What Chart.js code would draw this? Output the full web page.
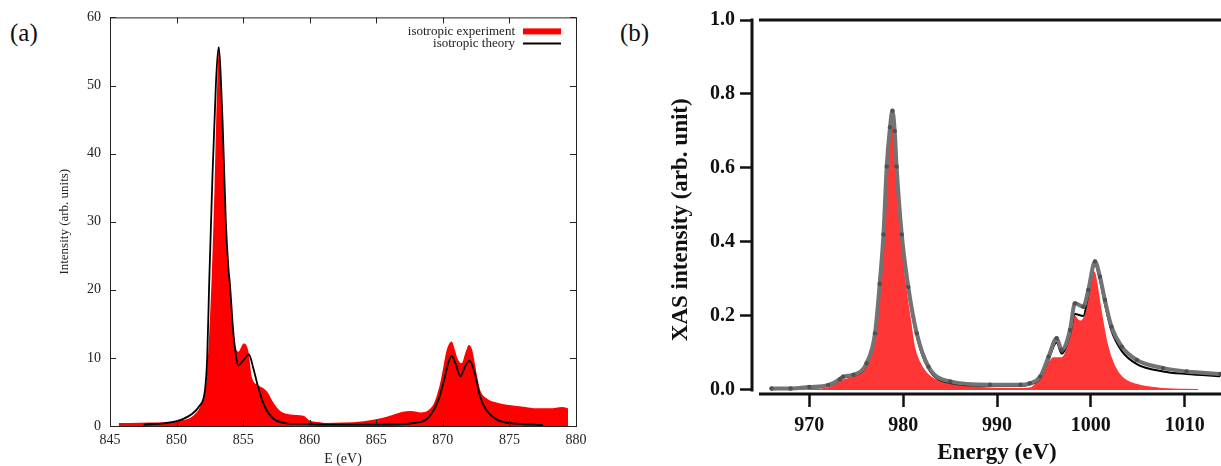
<!DOCTYPE html>
<html>
<head>
<meta charset="utf-8">
<script src="https://cdn.jsdelivr.net/npm/chart.js@4.4.1/dist/chart.umd.min.js"></script>
<style>
  html, body { margin: 0; padding: 0; background: #fff; }
  body { width: 1221px; height: 466px; overflow: hidden; position: relative; }
  canvas { position: absolute; top: 0; }
  #chartA { left: 0; }
  #chartB { left: 610px; }
  .panel { position: absolute; font-family: "Liberation Serif", serif; font-size: 25px; color: #111; line-height: 1; }
</style>
</head>
<body>
<div class="panel" style="left:10px; top:20px;">(a)</div>
<div class="panel" style="left:620px; top:20px;">(b)</div>
<canvas id="chartA" width="600" height="466"></canvas>
<canvas id="chartB" width="640" height="466"></canvas>
<script>
// ---------------- panel (a): L2,3 edge, experiment vs theory ----------------
const xTicksA = [845, 850, 855, 860, 865, 870, 875, 880];
const yTicksA = [0, 10, 20, 30, 40, 50, 60];

const expA_E = [845.66, 846.5, 848, 849.5, 850.25, 851.25, 851.88, 852.25, 852.63, 852.85, 853.05, 853.2,
  853.4, 853.6, 853.8, 854.0, 854.13, 854.25, 854.38, 854.63, 855.05, 855.4, 855.65, 856.15, 856.78,
  857.28, 857.78, 858.53, 859.53, 860.0, 860.78, 861.2, 862.5, 864.05, 865.5, 866.2, 866.9, 867.6, 868.4,
  869.2, 869.5, 869.8, 870.05, 870.23, 870.45, 870.66, 870.9, 871.1, 871.4, 871.7, 871.95, 872.2, 872.4, 872.6,
  872.8, 873.25, 874.1, 875.26, 876.2, 877.0, 878.0, 879.0, 879.4];
const expA_I = [0.44, 0.45, 0.5, 0.6, 0.8, 1.5, 3.4, 6.7, 21.4, 35, 50, 55.8,
  46, 34, 26, 21, 16.5, 14.5, 12.1, 10.9, 12.1, 10.9, 7.2, 6.0, 5.1,
  3.4, 2.2, 1.7, 1.5, 0.8, 0.55, 0.45, 0.5, 0.7, 1.2, 1.6, 2.05, 2.2, 2.0,
  2.9, 4.2, 6.3, 8.8, 10.7, 12.0, 12.4, 11.2, 9.9, 9.2, 10.8, 11.9, 11.2, 9.2, 7.0,
  5.3, 4.1, 3.4, 3.0, 2.8, 2.6, 2.6, 2.8, 2.6];

const theoA_E = [847.53, 849, 850, 851.1, 851.7, 852.13, 852.3, 852.45, 852.7, 852.95, 853.15, 853.45, 853.7,
  853.9, 854.0, 854.25, 854.45, 854.63, 855.0, 855.43, 855.75, 856.13, 856.63, 857.25, 858.25, 859.5, 861.5,
  865.5, 867.8, 868.9, 869.66, 870.1, 870.43, 870.66, 870.95, 871.32, 871.66, 872.0, 872.4, 872.8, 873.25,
  874.1, 875.5, 877.5];
const theoA_I = [0.2, 0.4, 0.7, 1.7, 2.9, 5.2, 10, 21, 37, 50, 55.6, 45, 30,
  23, 21, 14, 10.5, 8.9, 9.6, 10.5, 8.6, 5.7, 2.8, 1.1, 0.4, 0.3, 0.2,
  0.2, 0.44, 1.2, 3.8, 6.8, 9.4, 10.3, 9.2, 7.3, 8.7, 9.6, 7.7, 4.3, 2.4,
  0.9, 0.34, 0.15];

// ---------------- panel (b): XAS ----------------
const xTicksB = [970, 980, 990, 1000, 1010];
const yTicksB = [0, 0.2, 0.4, 0.6, 0.8, 1.0];
const yTitleB = 'XAS intensity (arb. unit)';

const expB_E = [965.96, 968.0, 970.0, 972.0, 973.25, 973.6, 974.7, 976.1, 977.0, 977.5, 977.9, 978.25, 978.6,
  978.86, 979.1, 979.3, 979.85, 980.55, 981.45, 982.7, 985.0, 989.25, 992.5, 993.5, 994.6, 995.5, 996.36,
  996.9, 997.78, 998.3, 999.2, 999.73, 1000.44, 1000.97, 1001.5, 1002.2, 1003.3, 1004.9, 1007.7, 1010.2, 1013.8];
const expB_I = [0.004, 0.004, 0.008, 0.013, 0.029, 0.036, 0.041, 0.072, 0.153, 0.287, 0.42, 0.604, 0.71,
  0.755, 0.70, 0.604, 0.42, 0.278, 0.153, 0.063, 0.023, 0.014, 0.014, 0.018, 0.036, 0.09, 0.14,
  0.108, 0.162, 0.234, 0.225, 0.27, 0.347, 0.306, 0.243, 0.171, 0.117, 0.081, 0.059, 0.05, 0.043];
const theoB_I = [0.002, 0.003, 0.006, 0.011, 0.026, 0.033, 0.038, 0.068, 0.148, 0.28, 0.41, 0.59, 0.70,
  0.745, 0.69, 0.595, 0.41, 0.268, 0.145, 0.057, 0.019, 0.011, 0.011, 0.015, 0.032, 0.083, 0.128,
  0.098, 0.15, 0.205, 0.2, 0.258, 0.34, 0.297, 0.232, 0.16, 0.105, 0.07, 0.05, 0.043, 0.037];

const calcB_E = [968.2, 970, 972, 973.6, 974.7, 976.1, 977.0, 977.5, 977.9, 978.25, 978.6, 978.85, 979.1,
  979.3, 979.85, 980.5, 980.9, 981.3, 981.8, 982.5, 983.5, 985.0, 989.25, 992.5, 993.6, 995.1, 996.0, 996.9,
  997.6, 998.3, 998.85, 999.4, 1000.26, 1000.6, 1001.15, 1001.86, 1002.6, 1003.45, 1004.9, 1007.7, 1011.45];
const calcB_I = [0.002, 0.004, 0.009, 0.03, 0.038, 0.068, 0.14, 0.27, 0.40, 0.58, 0.69, 0.725, 0.67,
  0.58, 0.40, 0.26, 0.19, 0.12, 0.08, 0.05, 0.03, 0.018, 0.008, 0.007, 0.009, 0.063, 0.09, 0.09,
  0.135, 0.203, 0.189, 0.212, 0.324, 0.311, 0.225, 0.126, 0.068, 0.036, 0.018, 0.007, 0.004];

const pts = (xs, ys) => xs.map((x, i) => ({ x: x, y: ys[i] }));
const fixTicks = list => scale => { scale.ticks = list.map(v => ({ value: v })); };
const serif = '"Liberation Serif", "Times New Roman", serif';

// gnuplot-like frame: box, inward ticks on four sides, legend with samples on the right
const frameA = {
  id: 'frameA',
  afterDraw(chart) {
    const { ctx, chartArea: a, scales: { x, y } } = chart;
    ctx.save();
    ctx.strokeStyle = '#222';
    ctx.lineWidth = 1;
    ctx.strokeRect(a.left + 0.5, a.top + 0.5, a.right - a.left, a.bottom - a.top);
    ctx.beginPath();
    x.ticks.forEach(t => {
      const px = Math.round(x.getPixelForValue(t.value)) + 0.5;
      ctx.moveTo(px, a.bottom); ctx.lineTo(px, a.bottom - 6);
      ctx.moveTo(px, a.top); ctx.lineTo(px, a.top + 6);
    });
    y.ticks.forEach(t => {
      const py = Math.round(y.getPixelForValue(t.value)) + 0.5;
      ctx.moveTo(a.left, py); ctx.lineTo(a.left + 6, py);
      ctx.moveTo(a.right, py); ctx.lineTo(a.right - 6, py);
    });
    ctx.stroke();

    const ds = chart.data.datasets;
    const tx = a.right - 61, sx0 = a.right - 53, sx1 = a.right - 15;
    ctx.font = '13px ' + serif;
    ctx.fillStyle = '#222';
    ctx.textAlign = 'right';
    ctx.textBaseline = 'middle';
    ctx.fillText(ds[0].label, tx, a.top + 14);
    ctx.fillText(ds[1].label, tx, a.top + 26);
    ctx.fillStyle = '#ff0000';
    ctx.fillRect(sx0, a.top + 11, sx1 - sx0, 6);
    ctx.strokeStyle = '#000';
    ctx.lineWidth = 2;
    ctx.beginPath();
    ctx.moveTo(sx0, a.top + 26); ctx.lineTo(sx1, a.top + 26);
    ctx.stroke();
    ctx.restore();
  }
};

// Igor-like detached axes for panel (b), plus its y title
const axesB = {
  id: 'axesB',
  afterDraw(chart) {
    const { ctx, chartArea: a, scales: { x, y } } = chart;
    ctx.save();
    ctx.strokeStyle = '#111';
    ctx.lineWidth = 3;
    ctx.beginPath();
    ctx.moveTo(a.left - 1, y.getPixelForValue(1.0) - 1.5);
    ctx.lineTo(a.left - 1, y.getPixelForValue(0) + 1.5);
    ctx.moveTo(a.left + 6, y.getPixelForValue(1.0));
    ctx.lineTo(a.right, y.getPixelForValue(1.0));
    ctx.moveTo(a.left + 6, a.bottom);
    ctx.lineTo(a.right, a.bottom);
    ctx.stroke();

    ctx.translate(71, y.getPixelForValue(0.46));
    ctx.rotate(-Math.PI / 2);
    ctx.font = 'bold 23px ' + serif;
    ctx.fillStyle = '#111';
    ctx.textAlign = 'center';
    ctx.textBaseline = 'middle';
    ctx.fillText(yTitleB, 0, 0);
    ctx.restore();
  }
};

new Chart(document.getElementById('chartA'), {
  type: 'line',
  data: {
    datasets: [
      { label: 'isotropic experiment', data: pts(expA_E, expA_I), fill: 'origin', backgroundColor: '#ff0000',
        borderWidth: 0, pointRadius: 0, cubicInterpolationMode: 'monotone', order: 2 },
      { label: 'isotropic theory', data: pts(theoA_E, theoA_I), fill: false, borderColor: '#000',
        borderWidth: 1.8, pointRadius: 0, cubicInterpolationMode: 'monotone', order: 1 }
    ]
  },
  options: {
    responsive: false,
    animation: false,
    layout: { padding: { top: 16, right: 24, left: 0, bottom: 0 } },
    plugins: { legend: { display: false }, tooltip: { enabled: false } },
    scales: {
      x: {
        type: 'linear', min: 845, max: 880,
        afterBuildTicks: fixTicks(xTicksA),
        afterFit: s => { s.height = 40; },
        grid: { display: false, drawTicks: false },
        border: { display: false },
        ticks: { color: '#222', padding: 6, font: { family: serif, size: 14 }, callback: v => String(v) },
        title: { display: true, text: 'E (eV)', color: '#222', padding: { top: 0, bottom: 0 },
          font: { family: serif, size: 14, lineHeight: 1 } }
      },
      y: {
        min: 0, max: 60,
        afterBuildTicks: fixTicks(yTicksA),
        afterFit: s => { s.width = 110; },
        grid: { display: false, drawTicks: false },
        border: { display: false },
        ticks: { color: '#222', padding: 9, font: { family: serif, size: 14 }, callback: v => String(v) },
        title: { display: true, text: 'Intensity (arb. units)', color: '#222', padding: { top: 58, bottom: 0 },
          font: { family: serif, size: 13, lineHeight: 1 } }
      }
    }
  },
  plugins: [frameA]
});

new Chart(document.getElementById('chartB'), {
  type: 'line',
  data: {
    datasets: [
      { label: 'experiment', data: pts(expB_E, expB_I), fill: false, borderColor: '#737373', borderWidth: 4,
        pointRadius: 2.2, pointBackgroundColor: '#505050', pointBorderWidth: 0,
        cubicInterpolationMode: 'monotone', order: 1 },
      { label: 'theory', data: pts(expB_E, theoB_I), fill: false, borderColor: '#000', borderWidth: 2,
        pointRadius: 0, cubicInterpolationMode: 'monotone', order: 2 },
      { label: 'calculation', data: pts(calcB_E, calcB_I), fill: 'origin', backgroundColor: '#ff3636',
        borderColor: '#fff', borderWidth: 1.2, pointRadius: 0, cubicInterpolationMode: 'monotone', order: 3 }
    ]
  },
  options: {
    responsive: false,
    animation: false,
    layout: { padding: { top: 20, right: 9, left: 0, bottom: 0 } },
    plugins: { legend: { display: false }, tooltip: { enabled: false } },
    scales: {
      x: {
        type: 'linear', min: 964, max: 1016,
        afterBuildTicks: fixTicks(xTicksB),
        afterFit: s => { s.height = 72; },
        grid: { drawOnChartArea: false, drawTicks: true, tickLength: 13, tickWidth: 2.5, color: '#111' },
        border: { display: false },
        ticks: { color: '#111', padding: 7, font: { family: serif, size: 20, weight: 'bold' }, callback: v => String(v) },
        title: { display: true, text: 'Energy (eV)', color: '#111', padding: { top: 0, bottom: 1 },
          font: { family: serif, size: 23, weight: 'bold', lineHeight: 1 } }
      },
      y: {
        min: -0.011, max: 1.0,
        afterBuildTicks: fixTicks(yTicksB),
        afterFit: s => { s.width = 143; },
        grid: { drawOnChartArea: false, drawTicks: true, tickLength: 13, tickWidth: 2.5, color: '#111' },
        border: { display: false },
        ticks: { color: '#111', padding: 5, font: { family: serif, size: 20, weight: 'bold' }, callback: v => v.toFixed(1) },
        title: { display: false }
      }
    }
  },
  plugins: [axesB]
});
</script>
</body>
</html>
